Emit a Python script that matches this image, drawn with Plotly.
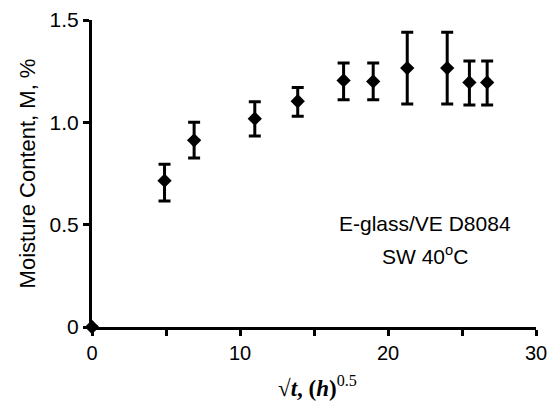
import plotly.graph_objects as go

sqrt_t = [0, 4.9, 6.9, 11.0, 13.9, 17.0, 19.0, 21.3, 24.0, 25.5, 26.7]
moisture = [0, 0.715, 0.912, 1.018, 1.103, 1.205, 1.200, 1.265, 1.265, 1.195, 1.195]
err_plus = [0, 0.080, 0.088, 0.082, 0.067, 0.085, 0.090, 0.175, 0.175, 0.105, 0.105]
err_minus = [0, 0.099, 0.086, 0.085, 0.073, 0.095, 0.090, 0.175, 0.175, 0.110, 0.110]

x_ticks = [0, 5, 10, 15, 20, 25, 30]
x_tick_labels = ["0", "", "10", "", "20", "", "30"]
y_ticks = [0, 0.5, 1.0, 1.5]
y_tick_labels = ["0", "0.5", "1.0", "1.5"]

L, R, T, B = 92, 11, 20, 82
W, H = 547, 409
PW, PH = W - L - R, H - T - B


def px(x):
    return (x - L) / PW


def py(y):
    return (H - B - y) / PH


fig = go.Figure()
fig.add_trace(go.Scatter(
    x=sqrt_t, y=moisture, mode="markers",
    marker=dict(symbol="diamond", size=11, color="black"),
    error_y=dict(type="data", symmetric=False, array=err_plus, arrayminus=err_minus,
                 color="black", thickness=3, width=6),
    cliponaxis=False, showlegend=False,
))

fig.update_layout(
    width=W, height=H,
    margin=dict(l=L, r=R, t=T, b=B),
    paper_bgcolor="white", plot_bgcolor="white",
    font=dict(family="Liberation Sans, Arial", size=22, color="black"),
    xaxis=dict(range=[0, 30], tickvals=x_ticks, ticktext=x_tick_labels,
               showgrid=False, zeroline=False, showline=True, linewidth=3,
               linecolor="black", ticks="outside", ticklen=6, tickwidth=3,
               tickcolor="black", tickfont=dict(size=20), automargin=False,
               ticklabeloverflow="allow"),
    yaxis=dict(range=[0, 1.5], tickvals=y_ticks, ticktext=y_tick_labels,
               showgrid=False, zeroline=False, showline=True, linewidth=3,
               linecolor="black", ticks="outside", ticklen=6, tickwidth=3,
               tickcolor="black", tickfont=dict(size=21), automargin=False,
               ticklabeloverflow="allow",
               title=dict(text="Moisture Content, M, %", font=dict(size=22), standoff=8)),
)

fig.add_annotation(x=px(425), y=py(223), xref="paper", yref="paper",
                   text="E-glass/VE D8084", showarrow=False, font=dict(size=21),
                   xanchor="center", yanchor="middle")
fig.add_annotation(x=px(425), y=py(255), xref="paper", yref="paper",
                   text="SW 40<sup>o</sup>C", showarrow=False, font=dict(size=21),
                   xanchor="center", yanchor="middle")
fig.add_annotation(x=px(317), y=py(386), xref="paper", yref="paper",
                   text="<b>√<i>t</i>, (<i>h</i>)</b><sup>0.5</sup>", showarrow=False,
                   font=dict(family="Liberation Serif, Times New Roman", size=23),
                   xanchor="center", yanchor="middle")

fig.write_html(
    "out.html",
    config={"displayModeBar": False},
    post_script="document.body.style.margin='0';document.body.style.overflow='hidden';",
)
